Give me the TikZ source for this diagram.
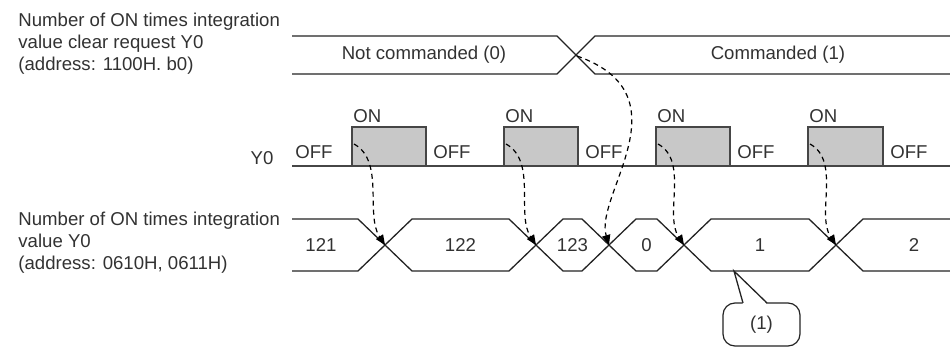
\documentclass[tikz,border=0pt]{standalone}
\usepackage{fontspec}
\setmainfont{Liberation Sans}
\usepackage{tikz}
\usetikzlibrary{arrows.meta, positioning}
\usepackage{xcolor}
\definecolor{cLine}{RGB}{35,35,35}
\definecolor{cWave}{RGB}{70,70,70}
\definecolor{cText}{RGB}{50,50,50}
\definecolor{cPulse}{RGB}{200,200,200}
\tikzset{
  sigtext/.style={font=\fontsize{9.3}{11}\selectfont, text=cText, inner sep=0pt},
  desctext/.style={sigtext, align=left, anchor=north west},
  busline/.style={draw=cLine, line width=0.65pt},
  waveline/.style={draw=cWave, line width=0.9pt},
  pulsebox/.style={waveline, fill=cPulse},
  dasharrow/.style={-{Triangle[length=5pt, width=4.2pt]}, dash pattern=on 2.5pt off 2pt,
                    line width=0.6pt, color=black},
  calloutbox/.style={draw=cLine, line width=0.6pt, rounded corners=6pt,
                     minimum width=38.5pt, minimum height=21.5pt, sigtext}
}

\begin{document}
\begin{tikzpicture}[x=0.5pt, y=-0.5pt]

  \useasboundingbox (0,0) rectangle (950,347);

  \node[desctext] (reqlabel) at (18,13)
      {Number of ON times integration\\value clear request Y0\\(address: 1100H. b0)};
  \node[desctext] (vallabel) at (18,212)
      {Number of ON times integration\\value Y0\\(address: 0610H, 0611H)};
  \node[sigtext] (ylabel) at (262,158) {Y0};

  % clear request bus
  \draw[busline] (292,36) -- (557,36) -- (595,74) -- (950,74);
  \draw[busline] (292,74) -- (557,74) -- (595,36) -- (950,36);
  \coordinate (reqx) at (577,56);
  \node[sigtext] (notcmd) at (424,55) {Not commanded (0)};
  \node[sigtext] (cmd) at (778,55) {Commanded (1)};

  % Y0 pulses
  \node[sigtext, anchor=west] (off0) at (295,152) {OFF};
  \foreach \r/\f [count=\i] in {352/426, 504/578, 656/730, 808/883} {
    \filldraw[pulsebox] (\r,166) -- (\r,127) -- (\f,127) -- (\f,166);
    \node[sigtext, anchor=west] (on\i) at (\r+1,116) {ON};
    \node[sigtext, anchor=west] (off\i) at (\f+7,152) {OFF};
    \coordinate (rise\i) at (\r+2,144);
  }
  \draw[waveline] (292,166) -- (950,166);

  % integration value bus
  \foreach \c [count=\i] in {385, 536, 609, 684, 836}
    \coordinate (cross\i) at (\c,245);
  \draw[busline] (292,219) -- (358,219) -- (cross1) -- (358,271) -- (292,271);
  \foreach \a/\b/\v in {385/536/122, 536/609/123, 609/684/0, 684/836/1} {
    \draw[busline] (\a,245) -- (\a+27,219) -- (\b-27,219) -- (\b,245)
                   -- (\b-27,271) -- (\a+27,271) -- cycle;
    \node[sigtext] (val\v) at ({(\a+\b)/2},245) {\v};
  }
  \draw[busline] (950,219) -- (863,219) -- (cross5) -- (863,271) -- (950,271);
  \node[sigtext] (val121) at (321,245) {121};
  \node[sigtext] (val2) at (914,245) {2};

  % dashed arrows
  \foreach \i/\c in {1/1, 2/2, 3/4, 4/5}
    \draw[dasharrow] (rise\i) .. controls +(31,17) and +(-20,-30) .. (cross\c);
  \draw[dasharrow] (reqx) .. controls (688,95) and (594,195) .. (cross3);

  % callout
  \coordinate (calltip) at (734,271);
  \node[calloutbox] (note) at (761.5,324.5) {(1)};
  \fill[white] (743,304.5) -- (calltip) -- (767,304.5) -- cycle;
  \draw[busline] (743,303) -- (calltip) -- (767,303);

\end{tikzpicture}
\end{document}
